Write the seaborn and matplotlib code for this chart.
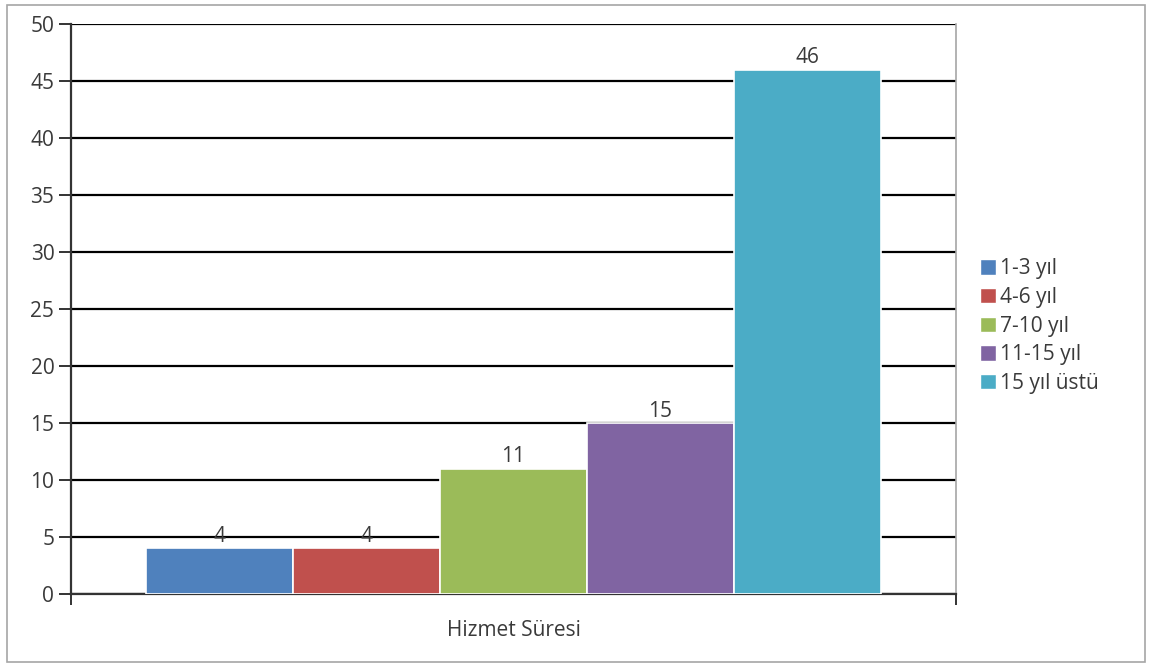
import matplotlib
matplotlib.use("Agg")
import matplotlib.pyplot as plt
import matplotlib.patches as mpatches
import seaborn as sns
import pandas as pd

# Data: years of service distribution
category = ["Hizmet Süresi"]
series = ["1-3 yıl", "4-6 yıl", "7-10 yıl", "11-15 yıl", "15 yıl üstü"]
values = [4, 4, 11, 15, 46]
colors = ["#4F81BD", "#C0504D", "#9BBB59", "#8064A2", "#4BACC6"]
yticks = [0, 5, 10, 15, 20, 25, 30, 35, 40, 45, 50]

df = pd.DataFrame({
    "kategori": category * len(series),
    "seri": series,
    "deger": values,
})

sns.set_theme(style="white")
plt.rcParams["font.family"] = ["Open Sans", "DejaVu Sans"]
FS = 15
TXT = "#3a3a3a"

fig = plt.figure(figsize=(11.5, 6.68), dpi=100)
W, H = 1150, 668
ax = fig.add_axes([71 / W, 1 - 594 / H, (956 - 71) / W, (594 - 24) / H])

# Outer chart frame
fig.patches.append(mpatches.Rectangle((7 / W, 1 - 662 / H), (1145 - 7) / W, (662 - 5) / H,
                                      transform=fig.transFigure, fill=False,
                                      edgecolor="#a6a6a6", linewidth=1.2, zorder=0))

sns.barplot(data=df, x="kategori", y="deger", hue="seri", hue_order=series,
            palette=colors, width=0.83, edgecolor="white", linewidth=1.2,
            saturation=1, ax=ax, zorder=3)

# Value labels above bars
for cont in ax.containers:
    ax.bar_label(cont, padding=1, fontsize=FS, color=TXT)

ax.set_ylim(0, 50)
ax.set_xlim(-0.5, 0.5)
ax.set_yticks(yticks)
ax.yaxis.grid(True, color="black", linewidth=1.6, zorder=0)
ax.set_axisbelow(True)
ax.set_xlabel("")
ax.set_ylabel("")

for s in ["left", "bottom"]:
    ax.spines[s].set_color("#333333")
    ax.spines[s].set_linewidth(1.6)
ax.spines["top"].set_visible(False)
ax.spines["right"].set_color("#a6a6a6")
ax.spines["right"].set_linewidth(1.2)

ax.tick_params(axis="y", which="major", left=True, length=9, width=1.4,
               color="#333333", labelsize=FS, labelcolor=TXT, pad=3)
ax.tick_params(axis="x", which="major", length=0, labelsize=FS, labelcolor=TXT, pad=19)
ax.set_xticks([-0.5, 0.5], minor=True)
ax.tick_params(axis="x", which="minor", bottom=True, length=8, width=1.4, color="#333333")

ax.legend(handles=[mpatches.Patch(facecolor=c, label=l) for c, l in zip(colors, series)],
          loc="center left", bbox_to_anchor=(1.018, 0.47), frameon=False,
          fontsize=FS, handlelength=0.75, handleheight=0.75, handletextpad=0.2,
          labelspacing=0.37, borderaxespad=0)
for t in ax.get_legend().get_texts():
    t.set_color(TXT)

fig.savefig("out.png", dpi=100, facecolor="white")
